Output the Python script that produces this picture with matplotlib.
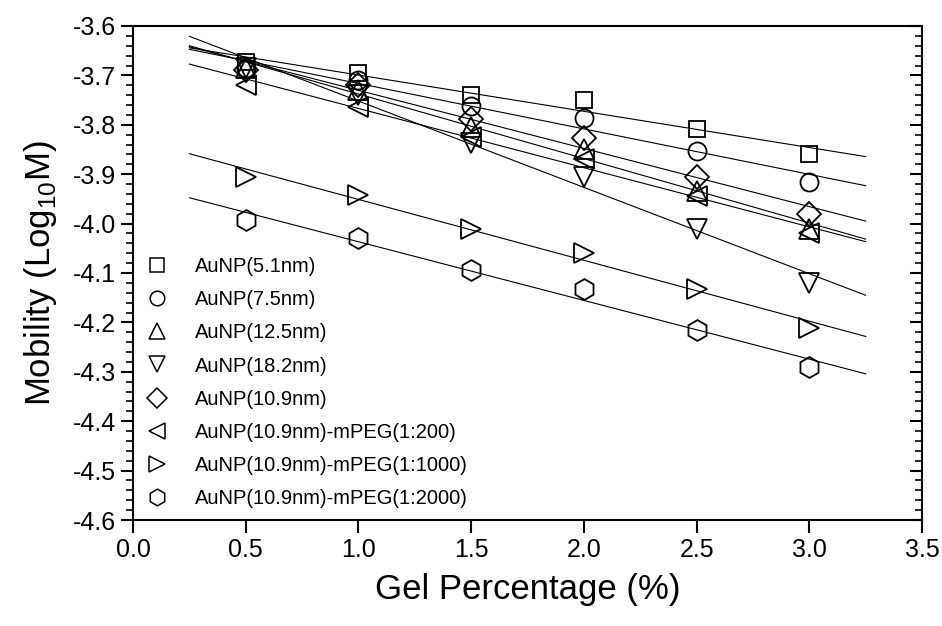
import numpy as np
import matplotlib
matplotlib.use("Agg")
import matplotlib.pyplot as plt
from matplotlib.ticker import MultipleLocator, FormatStrFormatter
import matplotlib.lines as mlines

plt.rcParams['font.family'] = ['Liberation Sans', 'DejaVu Sans']
plt.rcParams['mathtext.fontset'] = 'custom'
plt.rcParams['mathtext.rm'] = 'Liberation Sans'

gel = [0.5, 1.0, 1.5, 2.0, 2.5, 3.0]
labels = ["AuNP(5.1nm)", "AuNP(7.5nm)", "AuNP(12.5nm)", "AuNP(18.2nm)",
          "AuNP(10.9nm)", "AuNP(10.9nm)-mPEG(1:200)",
          "AuNP(10.9nm)-mPEG(1:1000)", "AuNP(10.9nm)-mPEG(1:2000)"]
au51 = [-3.672, -3.696, -3.740, -3.750, -3.809, -3.859]
au75 = [-3.685, -3.709, -3.762, -3.787, -3.854, -3.915]
au125 = [-3.685, -3.730, -3.805, -3.849, -3.935, -4.010]
au182 = [-3.685, -3.740, -3.837, -3.905, -4.010, -4.121]
au109 = [-3.689, -3.719, -3.789, -3.827, -3.906, -3.981]
peg200 = [-3.719, -3.763, -3.824, -3.870, -3.945, -4.020]
peg1000 = [-3.905, -3.942, -4.010, -4.059, -4.133, -4.212]
peg2000 = [-3.993, -4.030, -4.094, -4.133, -4.215, -4.290]
series = [au51, au75, au125, au182, au109, peg200, peg1000, peg2000]
markers = ['s', 'o', '^', 'v', 'D', '<', '>', 'h']
sizes = [12, 13, 14, 14, 12, 14, 14, 15]
leg_sizes = [10, 10.5, 11, 11, 10, 11, 11, 12]
fit_range = [0.25, 3.25]

fig = plt.figure(figsize=(9.42, 6.26), dpi=100)
ax = fig.add_axes([0.1412, 0.1693, 0.8376, 0.7892])

for ys, m, s, lab in zip(series, markers, sizes, labels):
    ax.plot(gel, ys, linestyle='none', marker=m, markersize=s,
            markerfacecolor='none', markeredgecolor='black',
            markeredgewidth=1.3, label=lab, zorder=3)
    k, b = np.polyfit(gel, ys, 1)
    xf = np.array(fit_range)
    ax.plot(xf, k * xf + b, color='black', linewidth=0.8, zorder=2)

ax.set_xlim(0.0, 3.5)
ax.set_ylim(-4.6, -3.6)
ax.xaxis.set_major_locator(MultipleLocator(0.5))
ax.yaxis.set_major_locator(MultipleLocator(0.1))
ax.yaxis.set_minor_locator(MultipleLocator(0.02))
ax.xaxis.set_major_formatter(FormatStrFormatter('%.1f'))
ax.yaxis.set_major_formatter(FormatStrFormatter('%.1f'))

ax.tick_params(axis='y', which='major', direction='out', length=9, width=1.5,
               labelsize=18, right=True, left=True, pad=3)
ax.tick_params(axis='y', which='minor', direction='out', length=5, width=1.2,
               right=True, left=True)
ax.tick_params(axis='x', which='major', direction='out', length=9, width=1.5,
               labelsize=18, top=False, pad=4)
for spine in ax.spines.values():
    spine.set_linewidth(1.5)

# right ticks point inward
for t in ax.yaxis.get_major_ticks():
    t.tick2line.set_marker(mlines.TICKLEFT)
for t in ax.yaxis.get_minor_ticks():
    t.tick2line.set_marker(mlines.TICKLEFT)

ax.set_xlabel("Gel Percentage (%)", fontsize=25, labelpad=8)
ax.set_ylabel("Mobility (Log$_{10}$M)", fontsize=25, labelpad=10)

leg = ax.legend(loc='lower left', bbox_to_anchor=(0.0, 0.0), frameon=False,
                fontsize=14.5, handletextpad=1.3, labelspacing=0.7,
                borderaxespad=0.2, handlelength=1.2)
for h, ms in zip(leg.legend_handles, leg_sizes):
    h.set_markersize(ms)
    h.set_markeredgewidth(1.1)

fig.savefig("out.png", dpi=100)
